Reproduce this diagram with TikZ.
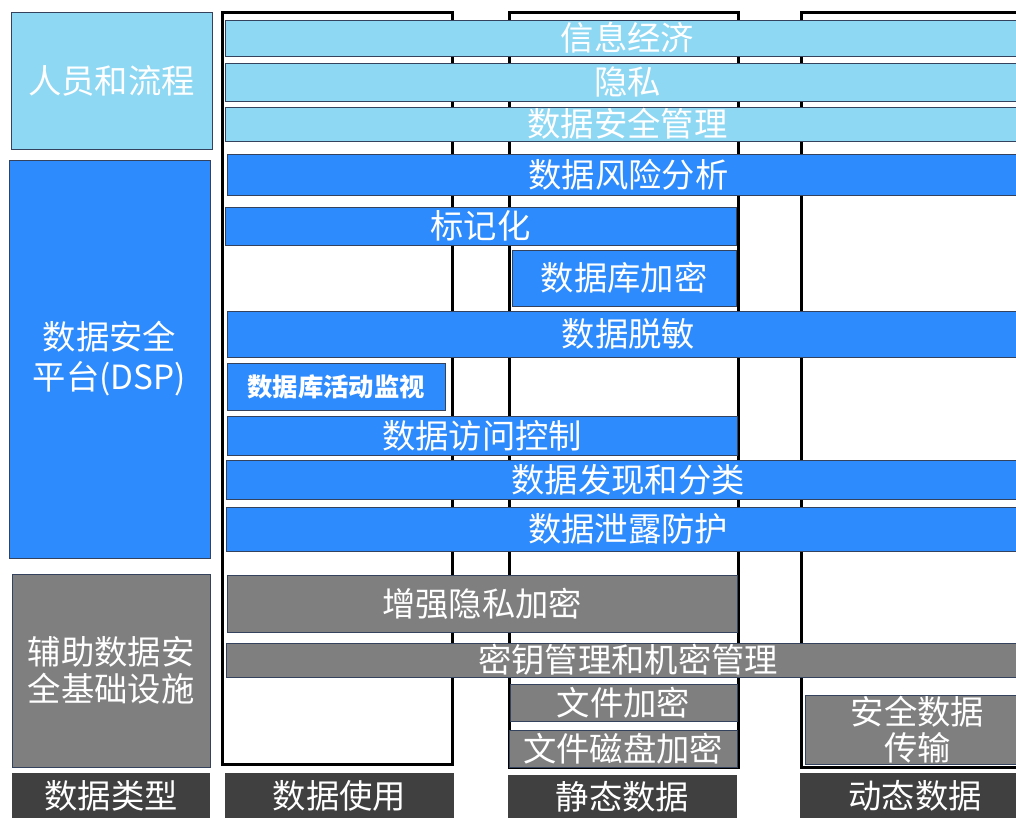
\documentclass[tikz,border=0pt]{standalone}
\usepackage{fontspec}
\newfontfamily\cjk{Noto Sans CJK SC}
\definecolor{peoplecolor}{HTML}{8ED8F4}
\definecolor{dspcolor}{HTML}{2E8BFD}
\definecolor{infracolor}{HTML}{7F7F7F}
\definecolor{typecolor}{HTML}{404040}
\definecolor{barline}{HTML}{34425E}
\tikzset{
    cell/.style n args={4}{
        at={({(#1+#3)/2},{(#2+#4)/2})},
        minimum width={(#3-#1)*0.75pt},
        minimum height={(#4-#2)*0.75pt}
    },
    layer/.style={
        inner sep=0pt,
        draw=barline,
        line width=0.6pt,
        text=white,
        align=center,
        font=\cjk\fontsize{25}{29}\selectfont
    },
    people/.style={
        layer,
        fill=peoplecolor
    },
    platform/.style={
        layer,
        fill=dspcolor
    },
    infra/.style={
        layer,
        fill=infracolor
    },
    datatype/.style={
        layer,
        fill=typecolor,
        draw=none
    },
    column/.style={
        draw=black,
        line width=2.25pt,
        inner sep=0pt
    }
}

\begin{document}
\begin{tikzpicture}[x=0.75pt, y=-0.75pt]
    \clip (0,0) rectangle (1016,818);

    % Column frames
    \node (UseFrame) [column, cell={222}{12}{452}{764}] {};
    \node (RestFrame) [column, cell={509}{12}{738}{767}] {};
    \node (MotionFrame) [column, cell={801}{12}{1040}{767}] {};

    % Left categories
    \node (People) [people, cell={11}{12}{212}{149}] {人员和流程};
    \node (Platform) [platform, cell={9}{160}{210}{558},
        font=\cjk\fontsize{25}{30}\selectfont] {数据安全\\平台(DSP)};
    \node (Infra) [infra, cell={12}{574}{210}{767},
        font=\cjk\fontsize{25}{28}\selectfont] {辅助数据安\\全基础设施};

    % People and process bars
    \node (InfoEconomy) [people, cell={225}{20}{1030}{56}] {信息经济};
    \node (Privacy) [people, cell={225}{63}{1030}{101}] {隐私};
    \node (SecMgmt) [people, cell={225}{107}{1030}{141}] {数据安全管理};

    % Platform bars
    \node (RiskAnalysis) [platform, cell={227}{154}{1030}{195}] {数据风险分析};
    \node (Tokenize) [platform, cell={225}{207}{736}{245}] {标记化};
    \node (DbEncrypt) [platform, cell={512}{250}{736}{306}] {数据库加密};
    \node (Masking) [platform, cell={227}{311}{1030}{357}] {数据脱敏};
    \node (DbMonitor) [platform, cell={227}{363}{445}{410},
        font=\cjk\bfseries\fontsize{19}{23}\selectfont] {数据库活动监视};
    \node (AccessCtrl) [platform, cell={227}{416}{737}{455}] {数据访问控制};
    \node (Discovery) [platform, cell={226}{460}{1030}{499}] {数据发现和分类};
    \node (LeakProtect) [platform, cell={226}{507}{1030}{551}] {数据泄露防护};

    % Infrastructure bars
    \node (PrivEncrypt) [infra, cell={227}{575}{737}{632}] {增强隐私加密};
    \node (KeyMgmt) [infra, cell={226}{643}{1030}{677}] {密钥管理和机密管理};
    \node (FileEncrypt) [infra, cell={510}{684}{737}{721}] {文件加密};
    \node (DiskEncrypt) [infra, cell={509}{730}{737}{767}] {文件磁盘加密};
    \node (Transfer) [infra, cell={805}{695}{1030}{764},
        font=\cjk\fontsize{25}{27}\selectfont] {安全数据\\传输};

    % Data type labels
    \node (TypeLabel) [datatype, cell={12}{773}{210}{818}] {数据类型};
    \node (InUse) [datatype, cell={225}{773}{454}{818}] {数据使用};
    \node (AtRest) [datatype, cell={508}{775}{737}{818}] {静态数据};
    \node (InMotion) [datatype, cell={800}{773}{1030}{818}] {动态数据};

\end{tikzpicture}
\end{document}
